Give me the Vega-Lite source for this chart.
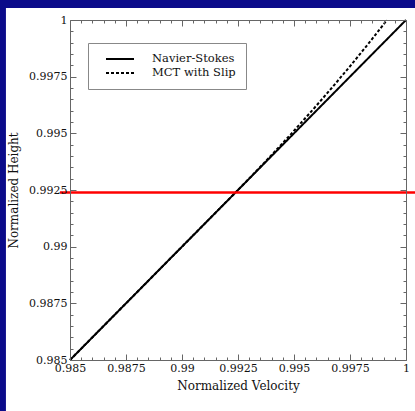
{
  "$schema": "https://vega.github.io/schema/vega-lite/v6.json",
  "width": 336,
  "height": 340,
  "autosize": {"type": "none"},
  "padding": {"left": 70, "top": 20, "right": 9, "bottom": 51},
  "background": "#0b0b8a",
  "config": {
    "view": {"stroke": null},
    "font": "DejaVu Serif",
    "axis": {"labelFont": "DejaVu Serif", "titleFont": "DejaVu Serif", "labelColor": "#111", "titleColor": "#111", "labelFontSize": 11, "titleFontSize": 12, "titleFontWeight": "normal", "domainColor": "#666", "tickColor": "#666", "grid": false, "zindex": 1, "labelFlush": false, "labelOverlap": false}
  },
  "datasets": {
    "frame": [{"x0": 0.98214, "x1": 1.003, "y0": 0.978, "y1": 1.00053}],
    "curves": [
      {"s": "Navier-Stokes", "v": 0.985, "h": 0.985},
      {"s": "Navier-Stokes", "v": 1.0, "h": 1.0},
      {"s": "MCT with Slip", "v": 0.985, "h": 0.985},
      {"s": "MCT with Slip", "v": 0.9923, "h": 0.9923},
      {"s": "MCT with Slip", "v": 0.992993, "h": 0.993},
      {"s": "MCT with Slip", "v": 0.993959, "h": 0.994},
      {"s": "MCT with Slip", "v": 0.994896, "h": 0.995},
      {"s": "MCT with Slip", "v": 0.995804, "h": 0.996},
      {"s": "MCT with Slip", "v": 0.996684, "h": 0.997},
      {"s": "MCT with Slip", "v": 0.997535, "h": 0.998},
      {"s": "MCT with Slip", "v": 0.998358, "h": 0.999},
      {"s": "MCT with Slip", "v": 0.999152, "h": 1.0}
    ],
    "marker": [{"y": 0.99239, "x0": 0.98455, "x1": 1.0006}]
  },
  "layer": [
    {
      "data": {"name": "frame"},
      "mark": {"type": "rect", "fill": "white", "clip": false},
      "encoding": {
        "x": {"field": "x0", "type": "quantitative", "scale": {"domain": [0.985, 1], "nice": false, "zero": false},
          "axis": {"orient": "top", "labels": false, "title": null, "zindex": 2,
            "values": [0.985,0.9855,0.986,0.9865,0.987,0.9875,0.988,0.9885,0.989,0.9895,0.99,0.9905,0.991,0.9915,0.992,0.9925,0.993,0.9935,0.994,0.9945,0.995,0.9955,0.996,0.9965,0.997,0.9975,0.998,0.9985,0.999,0.9995,1],
            "tickSize": {"condition": {"test": "round(datum.value*10000)%25===0", "value": -6}, "value": -3}}},
        "x2": {"field": "x1"},
        "y": {"field": "y0", "type": "quantitative", "scale": {"domain": [0.985, 1], "nice": false, "zero": false},
          "axis": {"orient": "right", "labels": false, "title": null, "zindex": 2,
            "values": [0.985,0.9855,0.986,0.9865,0.987,0.9875,0.988,0.9885,0.989,0.9895,0.99,0.9905,0.991,0.9915,0.992,0.9925,0.993,0.9935,0.994,0.9945,0.995,0.9955,0.996,0.9965,0.997,0.9975,0.998,0.9985,0.999,0.9995,1],
            "tickSize": {"condition": {"test": "round(datum.value*10000)%25===0", "value": -6}, "value": -3}}},
        "y2": {"field": "y1"}
      }
    },
    {
      "data": {"name": "curves"},
      "mark": {"type": "line", "color": "black", "strokeWidth": 2},
      "encoding": {
        "x": {"field": "v", "type": "quantitative", "scale": {"domain": [0.985, 1], "nice": false, "zero": false},
          "axis": {"orient": "bottom", "title": "Normalized Velocity", "titlePadding": 4, "labelPadding": 8, "zindex": 2,
            "values": [0.985,0.9855,0.986,0.9865,0.987,0.9875,0.988,0.9885,0.989,0.9895,0.99,0.9905,0.991,0.9915,0.992,0.9925,0.993,0.9935,0.994,0.9945,0.995,0.9955,0.996,0.9965,0.997,0.9975,0.998,0.9985,0.999,0.9995,1],
            "labelExpr": "round(datum.value*10000)%25===0 ? '' + datum.value : ''",
            "tickSize": {"condition": {"test": "round(datum.value*10000)%25===0", "value": -6}, "value": -3}}},
        "y": {"field": "h", "type": "quantitative", "scale": {"domain": [0.985, 1], "nice": false, "zero": false},
          "axis": {"orient": "left", "title": "Normalized Height", "titlePadding": 8, "labelPadding": 9, "zindex": 2,
            "values": [0.985,0.9855,0.986,0.9865,0.987,0.9875,0.988,0.9885,0.989,0.9895,0.99,0.9905,0.991,0.9915,0.992,0.9925,0.993,0.9935,0.994,0.9945,0.995,0.9955,0.996,0.9965,0.997,0.9975,0.998,0.9985,0.999,0.9995,1],
            "labelExpr": "round(datum.value*10000)%25===0 ? '' + datum.value : ''",
            "tickSize": {"condition": {"test": "round(datum.value*10000)%25===0", "value": -6}, "value": -3}}},
        "strokeDash": {"field": "s", "type": "nominal",
          "scale": {"domain": ["Navier-Stokes", "MCT with Slip"], "range": [[1, 0], [3, 2]]},
          "legend": {"orient": "none", "legendX": 18, "legendY": 23, "title": null, "symbolType": "M-2.8,0H2.8", "symbolStrokeWidth": 2, "symbolSize": 100, "symbolStrokeColor": "black", "symbolOffset": 16, "labelFont": "DejaVu Serif", "labelFontSize": 11.5, "labelColor": "#111", "fillColor": "white", "strokeColor": "#888", "padding": 10, "rowPadding": 2, "labelOffset": 26}}
      }
    },
    {
      "data": {"name": "marker"},
      "mark": {"type": "rule", "color": "#ff0000", "strokeWidth": 2.5, "clip": false},
      "encoding": {
        "x": {"field": "x0", "type": "quantitative", "axis": null, "scale": {"domain": [0.985, 1], "nice": false, "zero": false}},
        "x2": {"field": "x1"},
        "y": {"field": "y", "type": "quantitative", "axis": null, "scale": {"domain": [0.985, 1], "nice": false, "zero": false}}
      }
    }
  ],
  "resolve": {"axis": {"x": "independent", "y": "independent"}}
}
